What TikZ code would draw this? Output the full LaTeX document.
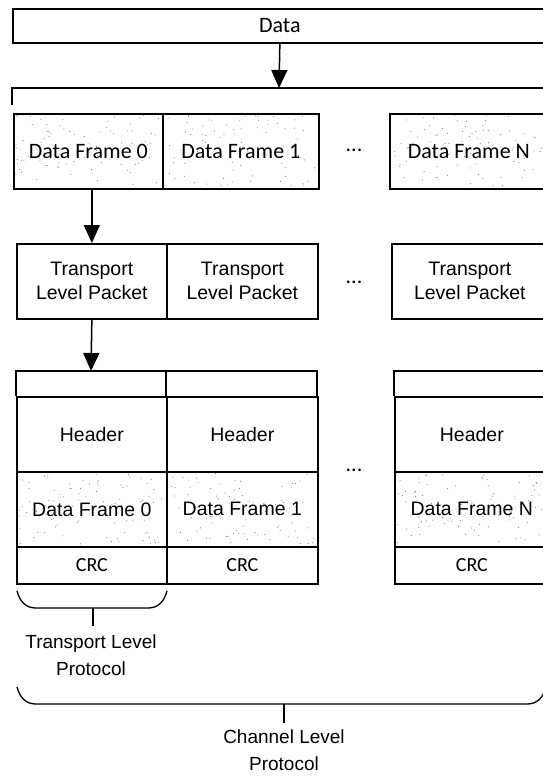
\documentclass[tikz,border=0pt]{standalone}
\usepackage{fontspec}
\setmainfont{Liberation Sans}
\newfontfamily\calibrifont{Carlito}
\usetikzlibrary{arrows.meta,calc}

\begin{document}
\begin{tikzpicture}[x=1pt,y=-1pt,
  box/.style={draw=black, line width=1.7pt, inner sep=0pt, anchor=north west, align=center},
  calbox/.style={box, font=\calibrifont\fontsize{22}{26}\selectfont},
  arialbox/.style={box, font=\fontsize{19.5}{24}\selectfont},
  crcbox/.style={box, font=\calibrifont\fontsize{20}{24}\selectfont},
  frameline/.style={draw=black, line width=1.6pt},
  braceline/.style={draw=black, line width=1.3pt},
  arr/.style={draw=black, line width=1.5pt, -{Triangle[length=18pt,width=16pt]}},
  ellip/.style={font=\calibrifont\fontsize{22}{26}\selectfont},
  speckle/.style={fill=black!60},
  lbl/.style={align=center, font=\fontsize{19}{27}\selectfont, inner sep=0pt}
]
\useasboundingbox (0,0) rectangle (542,776);
\pgfmathsetseed{11}
% scattered grain inside the data-frame cells
\newcommand\speckles[4]{%
  \foreach \k in {1,...,90}{\fill[speckle] ({#1+2+rnd*(#3-4)},{#2+2+rnd*(#4-4)}) circle (0.5);}}
\speckles{13}{113}{149}{75}
\speckles{162}{113}{156}{75}
\speckles{389}{113}{156}{75}
\speckles{16}{471}{150}{75}
\speckles{166}{471}{151}{75}
\speckles{394}{471}{154}{75}

% whole data block
\node[calbox, minimum width=534pt, minimum height=34pt] (data) at (12,8) {Data};
\coordinate (split) at (279,88);
\draw[frameline] (12,105) -- (12,88) -- (548,88);
\draw[arr] (data.south) -- (split);

% data frames
\node[calbox, minimum width=149pt, minimum height=75pt] (df0) at (13,113) {Data Frame 0};
\node[calbox, minimum width=156pt, minimum height=75pt] (df1) at (162,113) {Data Frame 1};
\node[ellip] (dotsA) at (354,150) {...};
\node[calbox, minimum width=158pt, minimum height=75pt] (dfn) at (389,113) {Data Frame N};

% transport level packets
\node[arialbox, minimum width=150pt, minimum height=75pt] (tlp0) at (16,243) {Transport\\Level Packet};
\node[arialbox, minimum width=151pt, minimum height=75pt] (tlp1) at (166,243) {Transport\\Level Packet};
\node[ellip] (dotsB) at (354,282) {...};
\node[arialbox, minimum width=156pt, minimum height=75pt] (tlpn) at (391,243) {Transport\\Level Packet};

\draw[arr] (tlp0.north |- df0.south) -- (tlp0.north);

% channel frames: bracket on top, then header / data / crc
\coordinate (chtop) at (91,371);
\draw[arr] (tlp0.south) -- (chtop);
\draw[frameline] (16,396) -- (16,371) -- (317,371) -- (317,396);
\draw[frameline] (166,371) -- (166,396);
\draw[frameline] (394,396) -- (394,371) -- (550,371);

\node[arialbox, minimum width=150pt, minimum height=75pt] (h0) at (16,396) {Header};
\node[arialbox, minimum width=150pt, minimum height=75pt] (p0) at (16,471) {Data Frame 0};
\node[crcbox, minimum width=150pt, minimum height=37pt] (c0) at (16,546) {CRC};

\node[arialbox, minimum width=151pt, minimum height=75pt] (h1) at (166,396) {Header};
\node[arialbox, minimum width=151pt, minimum height=75pt] (p1) at (166,471) {Data Frame 1};
\node[crcbox, minimum width=151pt, minimum height=37pt] (c1) at (166,546) {CRC};

\node[ellip] (dotsC) at (354,470) {...};

\node[arialbox, minimum width=154pt, minimum height=75pt] (hn) at (394,396) {Header};
\node[arialbox, minimum width=154pt, minimum height=75pt] (pn) at (394,471) {Data Frame N};
\node[crcbox, minimum width=154pt, minimum height=37pt] (cn) at (394,546) {CRC};

% transport level protocol brace
\draw[braceline] (17,591) .. controls (20,602) and (26,608) .. (36,608) -- (148,608)
  .. controls (158,608) and (164,602) .. (167,591);
\coordinate (tpk) at (93,608);
\node[lbl] (tpl) at (91,655) {Transport Level\\Protocol};
\draw[braceline] (tpk) -- (93,626);

% channel level protocol brace
\draw[braceline] (17,687) .. controls (20,698) and (26,704) .. (36,704) -- (527,704)
  .. controls (537,704) and (543,698) .. (546,687);
\coordinate (cpk) at (284,704);
\node[lbl] (cpl) at (284,750) {Channel Level\\Protocol};
\draw[braceline] (cpk) -- (284,723);
\end{tikzpicture}
\end{document}
